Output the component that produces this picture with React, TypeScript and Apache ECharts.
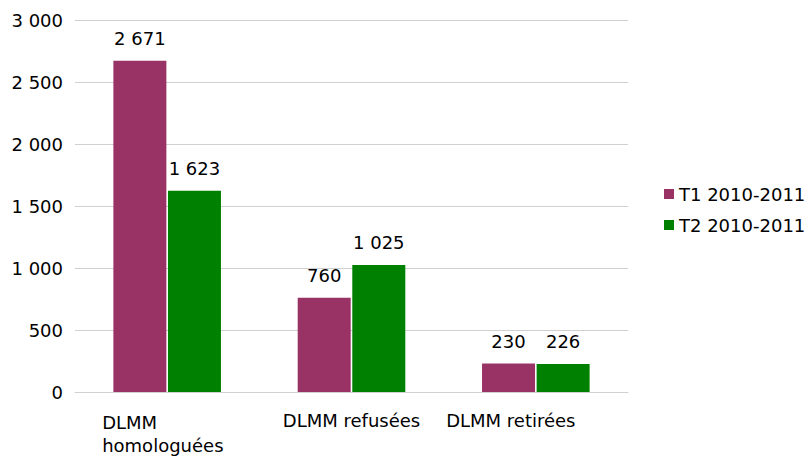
import React, { useEffect, useRef } from "react";
import * as echarts from "echarts";

const categories = ["DLMM homologuées", "DLMM refusées", "DLMM retirées"];
const seriesNames = ["T1 2010-2011", "T2 2010-2011"];
const t1Values = [2671, 760, 230];
const t2Values = [1623, 1025, 226];
const colors = ["#993366", "#008000"];

const FONT = "DejaVu Sans";
const fmt = (v: number) => String(v).replace(/\B(?=(\d{3})+(?!\d))/g, " ");

export default function App() {
  const ref = useRef<HTMLDivElement>(null);
  useEffect(() => {
    if (!ref.current) return;
    const chart = echarts.init(ref.current, undefined, { renderer: "svg" });
    const mkSeries = (name: string, data: number[], color: string) => ({
      name,
      type: "bar",
      data,
      barWidth: 53,
      barGap: "3%",
      itemStyle: { color },
      label: {
        show: true,
        position: "top",
        distance: 13,
        color: "#000",
        fontFamily: FONT,
        fontSize: 18,
        formatter: (p: any) => fmt(p.value),
      },
    });
    chart.setOption({
      animation: false,
      textStyle: { fontFamily: FONT },
      grid: { left: 75, right: 182, top: 20, bottom: 66, containLabel: false },
      legend: {
        orient: "vertical",
        left: 659,
        top: 180,
        itemWidth: 10,
        itemHeight: 10,
        itemGap: 13,
        icon: "rect",
        textStyle: { fontFamily: FONT, fontSize: 18, color: "#000", padding: [0, 0, 0, 0] },
        data: seriesNames,
      },
      xAxis: {
        type: "category",
        data: categories,
        axisLine: { show: true, lineStyle: { color: "#d0d0d0", width: 1 } },
        axisTick: { show: false },
        axisLabel: {
          color: "#000",
          fontFamily: FONT,
          fontSize: 18,
          margin: 19,
          interval: 0,
          formatter: (v: string) =>
            v === "DLMM homologuées"
              ? "{l|DLMM}\n{l|homologuées}"
              : v === "DLMM retirées"
              ? "{r|" + v + "}"
              : v,
          rich: {
            l: { width: 130, align: "left", fontFamily: FONT, fontSize: 18, color: "#000", lineHeight: 23 },
            r: { fontFamily: FONT, fontSize: 18, color: "#000", padding: [0, 50, 0, 0] },
          },
        },
      },
      yAxis: {
        type: "value",
        min: 0,
        max: 3000,
        interval: 500,
        axisLine: { show: false },
        axisTick: { show: false },
        splitLine: { lineStyle: { color: "#d0d0d0", width: 1 } },
        axisLabel: {
          color: "#000",
          fontFamily: FONT,
          fontSize: 18,
          margin: 12,
          formatter: (v: number) => fmt(v),
        },
      },
      series: [
        mkSeries(seriesNames[0], t1Values, colors[0]),
        mkSeries(seriesNames[1], t2Values, colors[1]),
      ],
    });
    return () => chart.dispose();
  }, []);
  return <div ref={ref} style={{ width: 810, height: 458, position: "absolute", left: 0, top: 0 }} />;
}
